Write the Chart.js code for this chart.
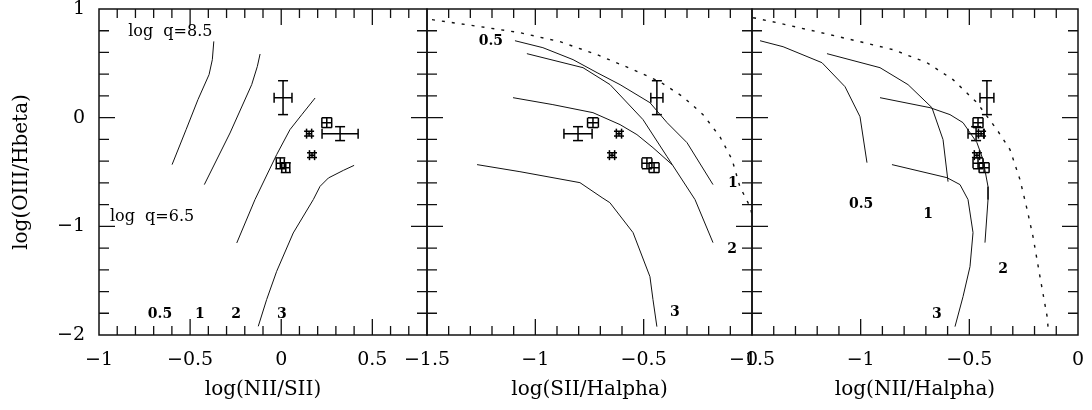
<!DOCTYPE html>
<html><head><meta charset="utf-8">
<script src="https://cdn.jsdelivr.net/npm/chart.js@4.4.1/dist/chart.umd.min.js"></script>
<style>
html,body{margin:0;padding:0;background:#fff;}
#wrap{position:relative;width:1092px;height:410px;overflow:hidden;}
#wrap canvas{position:absolute;left:0;top:0;}
</style></head><body>
<div id="wrap">
<canvas id="c1" width="1092" height="410"></canvas>
<canvas id="c2" width="1092" height="410"></canvas>
<canvas id="c3" width="1092" height="410"></canvas>
</div>
<script>
// ---------- observed points (same objects in all three panels) ----------
const Y_OIII_HB      = [0.184, -0.147, -0.345, -0.42, -0.46, -0.046, -0.147];
const Y_OIII_HB_ERR  = [0.156, 0.022, 0.022, 0.05, 0.045, 0.045, 0.064];
const X_NII_SII      = [0.010, 0.153, 0.169, -0.005, 0.025, 0.250, 0.323];
const X_NII_SII_ERR  = [0.049, 0.014, 0.014, 0.022, 0.022, 0.027, 0.099];
const X_SII_HA       = [-0.439, -0.614, -0.646, -0.485, -0.452, -0.734, -0.803];
const X_SII_HA_ERR   = [0.028, 0.012, 0.012, 0.023, 0.023, 0.025, 0.065];
const X_NII_HA       = [-0.419, -0.446, -0.465, -0.46, -0.432, -0.46, -0.469];
const X_NII_HA_ERR   = [0.032, 0.012, 0.012, 0.023, 0.023, 0.023, 0.037];

// ---------- panel 1 model curves: log(NII/SII) vs log(OIII/Hbeta) ----------
const P1_CURVE_A = [[-0.370,0.702],[-0.378,0.534],[-0.396,0.396],[-0.457,0.166],[-0.522,-0.110],[-0.599,-0.432]];
const P1_CURVE_B = [[-0.116,0.586],[-0.131,0.472],[-0.162,0.304],[-0.281,-0.141],[-0.422,-0.616]];
const P1_CURVE_C = [[0.186,0.181],[0.113,0.028],[0.048,-0.110],[-0.025,-0.340],[-0.144,-0.754],[-0.244,-1.153]];
const P1_CURVE_D = [[0.400,-0.439],[0.341,-0.485],[0.259,-0.555],[0.213,-0.632],[0.176,-0.754],[0.066,-1.061],[-0.025,-1.414],[-0.080,-1.674],[-0.126,-1.920]];

// ---------- panel 2 model curves: log(SII/Halpha) ----------
const P2_CURVE_1 = [[-1.094,0.708],[-0.965,0.644],[-0.826,0.534],[-0.715,0.414],[-0.609,0.304],[-0.471,0.138],[-0.392,-0.046],[-0.300,-0.230],[-0.180,-0.616]];
const P2_CURVE_2 = [[-1.039,0.589],[-0.780,0.460],[-0.655,0.304],[-0.503,-0.018],[-0.392,-0.359],[-0.263,-0.754],[-0.180,-1.150]];
const P2_CURVE_H = [[-1.103,0.184],[-0.919,0.120],[-0.734,0.046],[-0.609,-0.064],[-0.531,-0.156],[-0.457,-0.276],[-0.369,-0.432]];
const P2_CURVE_3 = [[-1.269,-0.432],[-1.071,-0.497],[-0.794,-0.598],[-0.692,-0.736],[-0.656,-0.782],[-0.549,-1.058],[-0.471,-1.463],[-0.457,-1.674],[-0.439,-1.923]];
const P2_LIMIT   = [[-1.477,0.902],[-1.380,0.874],[-1.223,0.828],[-1.071,0.782],[-0.886,0.699],[-0.715,0.580],[-0.549,0.442],[-0.425,0.331],[-0.319,0.193],[-0.226,0.028],[-0.148,-0.175],[-0.092,-0.386],[-0.056,-0.635],[-0.009,-0.819],[0.0,-0.89]];

// ---------- panel 3 model curves: log(NII/Halpha) ----------
const P3_CURVE_05 = [[-1.463,0.708],[-1.357,0.653],[-1.178,0.506],[-1.072,0.285],[-1.003,0.009],[-0.971,-0.414]];
const P3_CURVE_1  = [[-1.155,0.589],[-0.911,0.460],[-0.782,0.304],[-0.672,0.092],[-0.621,-0.202],[-0.598,-0.589]];
const P3_CURVE_2  = [[-0.911,0.184],[-0.681,0.092],[-0.589,0.028],[-0.529,-0.046],[-0.465,-0.230],[-0.437,-0.386],[-0.414,-0.635],[-0.414,-0.754],[-0.428,-1.150]];
const P3_CURVE_3  = [[-0.856,-0.432],[-0.603,-0.552],[-0.543,-0.616],[-0.506,-0.754],[-0.483,-1.058],[-0.497,-1.371],[-0.529,-1.647],[-0.566,-1.923]];
const P3_LIMIT    = [[-1.495,0.92],[-1.385,0.874],[-1.201,0.791],[-1.003,0.699],[-0.851,0.626],[-0.695,0.506],[-0.575,0.350],[-0.465,0.138],[-0.373,-0.110],[-0.313,-0.294],[-0.267,-0.570],[-0.234,-0.846],[-0.207,-1.095],[-0.175,-1.463],[-0.142,-1.831],[-0.138,-1.923]];

// ---------- axis ranges and text ----------
const Y_RANGE = [-2, 1];
const X_RANGES = [[-1, 0.8], [-1.5, 0], [-1.5, 0]];
const X_TITLES = ['log(NII/SII)', 'log(SII/Halpha)', 'log(NII/Halpha)'];
const Y_TITLE = 'log(OIII/Hbeta)';

const P1_LABELS = [
  {text:'log  q=8.5', x:-0.84, y:0.79, align:'left', size:16},
  {text:'log  q=6.5', x:-0.94, y:-0.91, align:'left', size:16},
  {text:'0.5', x:-0.665, y:-1.81}, {text:'1', x:-0.446, y:-1.81},
  {text:'2', x:-0.248, y:-1.81}, {text:'3', x:0.004, y:-1.81}
];
const P2_LABELS = [
  {text:'0.5', x:-1.205, y:0.70}, {text:'1', x:-0.088, y:-0.60},
  {text:'2', x:-0.092, y:-1.21}, {text:'3', x:-0.356, y:-1.79}
];
const P3_LABELS = [
  {text:'0.5', x:-0.998, y:-0.80}, {text:'1', x:-0.69, y:-0.89},
  {text:'2', x:-0.345, y:-1.40}, {text:'3', x:-0.649, y:-1.81}
];

const SERIF = '"DejaVu Serif", "Liberation Serif", serif';
const INK = '#111';

function fmt(v) {
  if (Math.abs(v * 2 - Math.round(v * 2)) > 1e-6) return '';
  const r = Math.round(v * 2) / 2;
  if (r === 0) return '0';
  return (r < 0 ? '\u2212' : '') + String(Math.abs(r));
}

const frameTicks = {
  id: 'frameTicks',
  afterDatasetsDraw(chart, args, opts) {
    const ctx = chart.ctx;
    const {left, right, top, bottom} = chart.chartArea;
    const xs = chart.scales.x, ys = chart.scales.y;
    ctx.save();
    ctx.strokeStyle = INK;
    ctx.lineWidth = 1.3;
    ctx.beginPath();
    xs.ticks.forEach(t => {
      const v = t.value;
      const px = xs.getPixelForValue(v);
      if (px <= left + 1 || px >= right - 1) return;
      const major = Math.abs(v * 2 - Math.round(v * 2)) < 1e-6;
      const L = major ? 16 : 9;
      ctx.moveTo(px, bottom); ctx.lineTo(px, bottom - L);
      ctx.moveTo(px, top); ctx.lineTo(px, top + L);
    });
    ys.ticks.forEach(t => {
      const v = t.value;
      const py = ys.getPixelForValue(v);
      if (py <= top + 1 || py >= bottom - 1) return;
      const major = Math.abs(v - Math.round(v)) < 1e-6;
      const L = major ? 16 : 10;
      ctx.moveTo(left, py); ctx.lineTo(left + L, py);
      ctx.moveTo(right, py); ctx.lineTo(right - L, py);
    });
    ctx.stroke();
    ctx.lineWidth = 1.5;
    ctx.strokeRect(left, top, right - left, bottom - top);
    (opts.labels || []).forEach(l => {
      ctx.font = (l.size ? '' : 'bold ') + (l.size || 14) + 'px ' + SERIF;
      ctx.fillStyle = '#000';
      ctx.textAlign = l.align || 'center';
      ctx.textBaseline = 'middle';
      ctx.fillText(l.text, xs.getPixelForValue(l.x), ys.getPixelForValue(l.y));
    });
    ctx.restore();
  }
};

function curve(pairs, dashed) {
  return {
    data: pairs.map(([x, y]) => ({x, y})),
    borderColor: INK, borderWidth: dashed ? 1.4 : 1,
    borderDash: dashed ? [3, 7] : [],
    pointRadius: 0, tension: 0, fill: false
  };
}

function errorBars(xs, xe, ys, ye) {
  const xb = [], yb = [];
  xs.forEach((x, i) => {
    xb.push({x: x - xe[i], y: ys[i]}, {x: x + xe[i], y: ys[i]}, {x: x, y: null});
    yb.push({x: x, y: ys[i] - ye[i]}, {x: x, y: ys[i] + ye[i]}, {x: x, y: null});
  });
  const base = {borderColor: '#000', borderWidth: 1.5, pointStyle: 'line', pointRadius: 5,
    pointBorderColor: '#000', pointBorderWidth: 1.5, spanGaps: false, tension: 0, fill: false};
  return [Object.assign({data: xb, pointRotation: 90}, base),
          Object.assign({data: yb, pointRotation: 0}, base)];
}

function makeChart(id, idx, datasets, labels, pad) {
  const showY = idx === 0;
  return new Chart(document.getElementById(id), {
    type: 'line',
    data: {datasets},
    plugins: [frameTicks],
    options: {
      responsive: false, animation: false, events: [],
      layout: {padding: pad},
      plugins: {legend: {display: false}, tooltip: {enabled: false}, frameTicks: {labels}},
      scales: {
        x: {
          type: 'linear', min: X_RANGES[idx][0], max: X_RANGES[idx][1],
          grid: {display: false, drawTicks: false}, border: {display: false},
          ticks: {stepSize: 0.1, autoSkip: false, maxRotation: 0, padding: 14,
                  color: '#000', font: {family: SERIF, size: 19}, callback: v => fmt(v)},
          title: {display: true, text: X_TITLES[idx], color: '#000',
                  font: {family: SERIF, size: 20}, padding: {top: 0, bottom: 8}},
          afterFit: s => { s.height = 75; s.paddingLeft = 0; s.paddingRight = 0; }
        },
        y: {
          type: 'linear', min: Y_RANGE[0], max: Y_RANGE[1], display: showY,
          grid: {display: false, drawTicks: false}, border: {display: false},
          ticks: {stepSize: 0.2, autoSkip: false, padding: 14, color: '#000',
                  font: {family: SERIF, size: 19},
                  callback: v => (Math.abs(v - Math.round(v)) < 1e-6 ? (Math.round(v) < 0 ? '\u2212' + Math.abs(Math.round(v)) : String(Math.round(v))) : '')},
          title: {display: showY, text: Y_TITLE, color: '#000',
                  font: {family: SERIF, size: 20}, padding: {top: 10, bottom: 0}},
          afterFit: s => { if (showY) s.width = 99; s.paddingTop = 0; s.paddingBottom = 0; }
        }
      }
    }
  });
}

makeChart('c1', 0, [
  curve(P1_CURVE_A), curve(P1_CURVE_B), curve(P1_CURVE_C), curve(P1_CURVE_D),
  ...errorBars(X_NII_SII, X_NII_SII_ERR, Y_OIII_HB, Y_OIII_HB_ERR)
], P1_LABELS, {left: 0, top: 9, right: 1092 - 427, bottom: 0});

makeChart('c2', 1, [
  curve(P2_CURVE_1), curve(P2_CURVE_2), curve(P2_CURVE_H), curve(P2_CURVE_3), curve(P2_LIMIT, true),
  ...errorBars(X_SII_HA, X_SII_HA_ERR, Y_OIII_HB, Y_OIII_HB_ERR)
], P2_LABELS, {left: 427, top: 9, right: 1092 - 752, bottom: 0});

makeChart('c3', 2, [
  curve(P3_CURVE_05), curve(P3_CURVE_1), curve(P3_CURVE_2), curve(P3_CURVE_3), curve(P3_LIMIT, true),
  ...errorBars(X_NII_HA, X_NII_HA_ERR, Y_OIII_HB, Y_OIII_HB_ERR)
], P3_LABELS, {left: 752, top: 9, right: 1092 - 1078, bottom: 0});
</script>
</body></html>
